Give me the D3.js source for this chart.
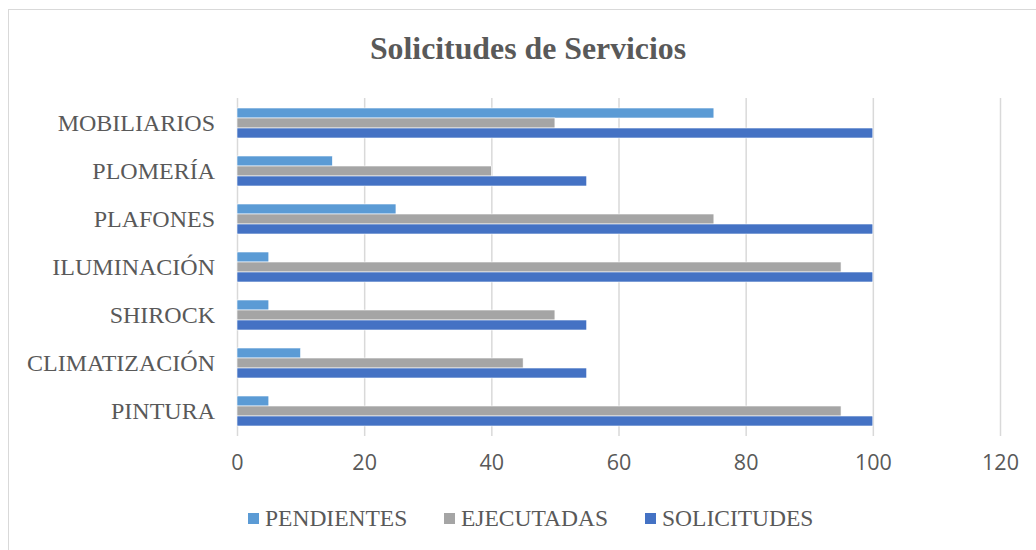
<!DOCTYPE html>
<html>
<head>
<meta charset="utf-8">
<script src="https://cdn.jsdelivr.net/npm/d3@7"></script>
<style>
  body { margin: 0; background: #fff; }
  #chart svg { display: block; }
</style>
</head>
<body>
<div id="chart"></div>
<script>
const categories = ["MOBILIARIOS", "PLOMERÍA", "PLAFONES", "ILUMINACIÓN", "SHIROCK", "CLIMATIZACIÓN", "PINTURA"];
const seriesNames = ["PENDIENTES", "EJECUTADAS", "SOLICITUDES"];
const pendientes = [75, 15, 25, 5, 5, 10, 5];
const ejecutadas = [50, 40, 75, 95, 50, 45, 95];
const solicitudes = [100, 55, 100, 100, 55, 55, 100];
const xTicks = [0, 20, 40, 60, 80, 100, 120];

const width = 1036;
const height = 550;
const colors = ["#5B9BD5", "#A5A5A5", "#4472C4"];
const textColor = "#595959";
const serif = "'Liberation Serif', 'Times New Roman', serif";

const svg = d3.select("#chart")
  .append("svg")
  .attr("width", width)
  .attr("height", height);

// chart area border (right and bottom edges run off the picture)
svg.append("rect")
  .attr("x", 8.5).attr("y", 9.5)
  .attr("width", 1040).attr("height", 560)
  .attr("fill", "none")
  .attr("stroke", "#d9d9d9");

svg.append("text")
  .attr("x", 528).attr("y", 59)
  .attr("text-anchor", "middle")
  .style("font-family", serif)
  .style("font-weight", "bold")
  .style("font-size", "31.8px")
  .style("fill", textColor)
  .text("Solicitudes de Servicios");

const x = d3.scaleLinear().domain([0, 120]).range([237, 1000]);
// each group of 3 bars sits centered in its 48px slot
const y = d3.scaleBand().domain(categories).range([99, 435]).paddingInner(0.375).paddingOuter(0.1875);
const yInner = d3.scaleBand().domain(seriesNames).range([0, y.bandwidth()]);

// gridlines
svg.append("g")
  .selectAll("line")
  .data(xTicks)
  .enter()
  .append("line")
  .attr("x1", d => x(d) + 0.5).attr("x2", d => x(d) + 0.5)
  .attr("y1", 98).attr("y2", 436)
  .attr("stroke", "#d9d9d9")
  .attr("stroke-width", 1.5);

const rows = categories.map((c, i) => ({
  category: c,
  values: [pendientes[i], ejecutadas[i], solicitudes[i]]
}));

const group = svg.append("g")
  .selectAll("g")
  .data(rows)
  .enter()
  .append("g")
  .attr("transform", d => `translate(0,${y(d.category)})`);

group.selectAll("rect")
  .data(d => d.values.map((v, k) => ({ name: seriesNames[k], value: v, k: k })))
  .enter()
  .append("rect")
  .attr("x", x(0))
  .attr("y", d => yInner(d.name))
  .attr("width", d => x(d.value) - x(0))
  .attr("height", yInner.bandwidth())
  .attr("fill", d => colors[d.k])
  .attr("stroke", "#fff")
  .attr("stroke-width", 0.6);

// category labels
svg.append("g")
  .selectAll("text")
  .data(categories)
  .enter()
  .append("text")
  .attr("x", 215)
  .attr("y", d => y(d) + y.bandwidth() / 2)
  .attr("dy", "0.35em")
  .attr("text-anchor", "end")
  .style("font-family", serif)
  .style("font-size", "24px")
  .style("fill", textColor)
  .text(d => d);

// x axis labels
const xAxis = d3.axisBottom(x).tickValues(xTicks).tickSize(0).tickPadding(0);
const axisG = svg.append("g")
  .attr("transform", "translate(0,455)")
  .call(xAxis);
axisG.select(".domain").remove();
axisG.selectAll("text")
  .attr("dy", "0.71em")
  .style("font-family", "'Open Sans', sans-serif")
  .style("font-size", "21.5px")
  .style("fill", textColor);

// legend
const legendX = [248, 444, 645];
const legend = svg.append("g")
  .selectAll("g")
  .data(seriesNames)
  .enter()
  .append("g")
  .attr("transform", (d, i) => `translate(${legendX[i]},518)`);

legend.append("rect")
  .attr("x", 0).attr("y", -5)
  .attr("width", 11).attr("height", 11)
  .attr("fill", (d, i) => colors[i]);

legend.append("text")
  .attr("x", 17)
  .attr("y", 0)
  .attr("dy", "0.35em")
  .style("font-family", serif)
  .style("font-size", "23.5px")
  .style("fill", textColor)
  .text(d => d);
</script>
</body>
</html>
